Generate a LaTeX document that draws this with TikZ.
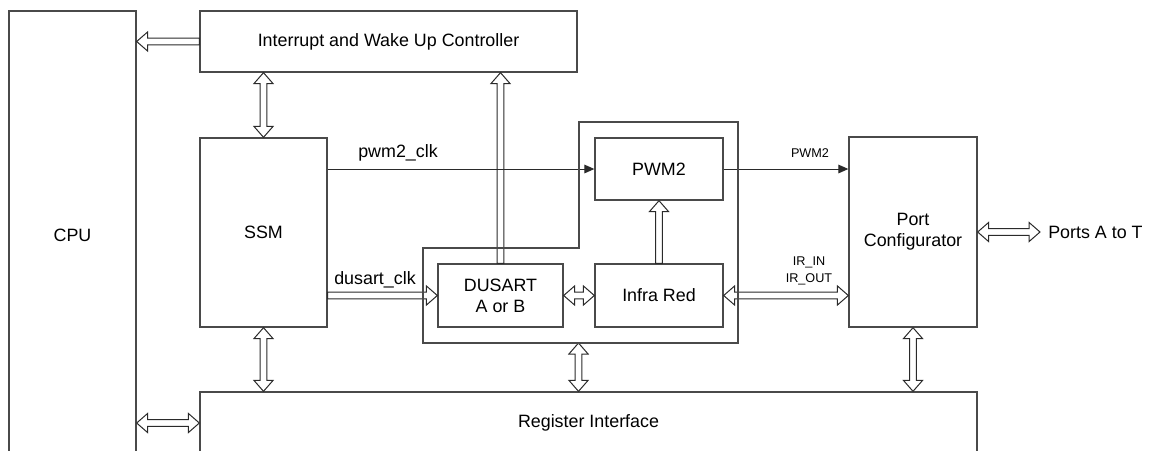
\documentclass[tikz,border=0pt]{standalone}
\usepackage{fontspec}
\setmainfont{Liberation Sans}
\usetikzlibrary{calc,arrows.meta}
\definecolor{boxc}{HTML}{4A4A4A}
\definecolor{arrc}{HTML}{2A2A2A}
\tikzset{
  x=0.75pt, y=-0.75pt,
  box/.style={draw=boxc, line width=1pt, inner sep=0pt, align=center,
    font=\fontsize{13.4}{15.75}\selectfont},
  lbl/.style={inner sep=0pt, font=\fontsize{13.4}{15.75}\selectfont},
  small/.style={inner sep=0pt, align=center, font=\fontsize{9.5}{12.5}\selectfont},
  sig/.style={draw=arrc, line width=0.75pt, -{Triangle[length=7.5pt,width=6.5pt]}},
  wire/.style={draw=boxc, line width=1pt},
  bidir/.style={draw=arrc, line width=0.75pt, fill=white, line join=miter, to path={
    -- ($(\tikztostart)!8.25pt!(\tikztotarget)!7.2pt!90:(\tikztotarget)$)
    -- ($(\tikztostart)!8.25pt!(\tikztotarget)!2.6pt!90:(\tikztotarget)$)
    -- ($(\tikztotarget)!8.25pt!(\tikztostart)!2.6pt!-90:(\tikztostart)$)
    -- ($(\tikztotarget)!8.25pt!(\tikztostart)!7.2pt!-90:(\tikztostart)$)
    -- (\tikztotarget)
    -- ($(\tikztotarget)!8.25pt!(\tikztostart)!7.2pt!90:(\tikztostart)$)
    -- ($(\tikztotarget)!8.25pt!(\tikztostart)!2.6pt!90:(\tikztostart)$)
    -- ($(\tikztostart)!8.25pt!(\tikztotarget)!2.6pt!-90:(\tikztotarget)$)
    -- ($(\tikztostart)!8.25pt!(\tikztotarget)!7.2pt!-90:(\tikztotarget)$)
    -- cycle}},
  unidir/.style={draw=arrc, line width=0.75pt, fill=white, line join=miter, to path={
    -- ($(\tikztostart)!2.6pt!90:(\tikztotarget)$)
    -- ($(\tikztotarget)!8.25pt!(\tikztostart)!2.6pt!-90:(\tikztostart)$)
    -- ($(\tikztotarget)!8.25pt!(\tikztostart)!7.2pt!-90:(\tikztostart)$)
    -- (\tikztotarget)
    -- ($(\tikztotarget)!8.25pt!(\tikztostart)!7.2pt!90:(\tikztostart)$)
    -- ($(\tikztotarget)!8.25pt!(\tikztostart)!2.6pt!90:(\tikztostart)$)
    -- ($(\tikztostart)!2.6pt!-90:(\tikztotarget)$)
    -- cycle}},
}
\begin{document}
\begin{tikzpicture}
\useasboundingbox (0,0) rectangle (1152,450);
\clip (0,0) rectangle (1152,450);
% boxes
\node[box, minimum width=95.25pt, minimum height=336.75pt] (cpu) at (72.5,235.5) {CPU};
\node[box, minimum width=282.75pt, minimum height=45.75pt] (iwc) at (388.5,41.5) {Interrupt and Wake Up Controller};
\node[box, minimum width=95.25pt, minimum height=141.75pt] (ssm) at (263.5,232.5) {SSM};
\node[box, minimum width=96pt, minimum height=46.5pt] (pwm) at (659,169) {PWM2};
\node[box, minimum width=93.75pt, minimum height=47.25pt] (dus) at (500.5,295.5) {DUSART\\A or B};
\node[box, minimum width=96pt, minimum height=47.25pt] (ir) at (659,295.5) {Infra Red};
\node[box, minimum width=96pt, minimum height=142.5pt] (port) at (913,232) {Port\\Configurator};
\node[box, minimum width=582.75pt, minimum height=46.5pt] (reg) at (588.5,423) {Register Interface};
\node[lbl, anchor=west, inner xsep=6pt] (ports) at (1040,232) {Ports A to T};
% container outline points
\coordinate (k1) at (579,122);
\coordinate (k2) at (738,122);
\coordinate (k3) at (738,343);
\coordinate (k4) at (423,343);
\coordinate (k5) at (423,248);
\coordinate (k6) at (579,248);
\coordinate (kb) at (578.5,343);
% hollow arrows
\draw[unidir] (iwc.west) to (iwc.west -| cpu.east);
\draw[bidir] (iwc.south -| ssm.north) to (ssm.north);
\draw[unidir] (dus.north) to (dus.north |- iwc.south);
\draw[unidir] (ssm.east |- dus.west) to (dus.west);
\draw[bidir] (dus.east) to (ir.west);
\draw[unidir] (ir.north) to (pwm.south);
\draw[bidir] (ir.east) to (ir.east -| port.west);
\draw[bidir] (port.east) to (ports.west);
\draw[bidir] (ssm.south) to (ssm.south |- reg.north);
\draw[bidir] (kb) to (kb |- reg.north);
\draw[bidir] (port.south) to (port.south |- reg.north);
\draw[bidir] (reg.west -| cpu.east) to (reg.west);
% signal lines
\draw[sig] (ssm.east |- pwm.west) -- (pwm.west);
\draw[sig] (pwm.east) -- (pwm.east -| port.west);
% container
\draw[wire] (k1) -- (k2) -- (k3) -- (k4) -- (k5) -- (k6) -- cycle;
% labels
\node[lbl] (l1) at (398,153) {pwm2\_clk};
\node[lbl] (l2) at (375,280) {dusart\_clk};
\node[small] (l3) at (810,153) {PWM2};
\node[small] (l4) at (809,271) {IR\_IN\\IR\_OUT};
\end{tikzpicture}
\end{document}
